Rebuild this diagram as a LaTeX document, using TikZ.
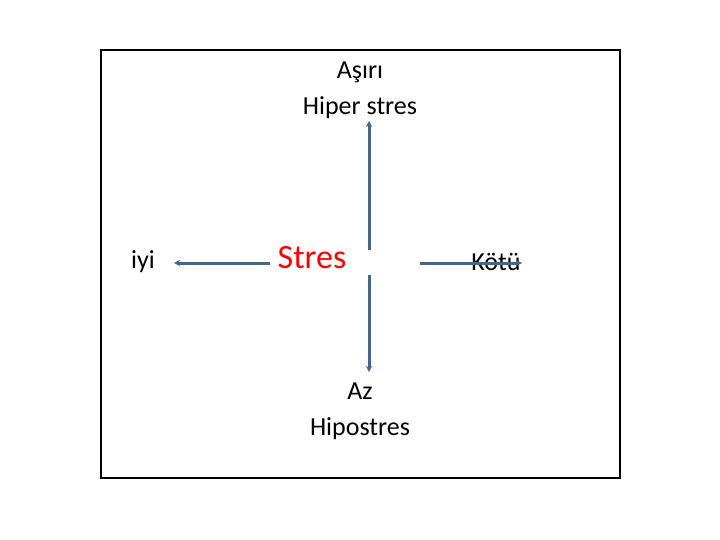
\documentclass[tikz,border=0pt]{standalone}
\usepackage{fontspec}
\setmainfont{Carlito}
\usetikzlibrary{arrows.meta}
\definecolor{steel}{RGB}{68,102,140}
\tikzset{label/.style={font=\fontsize{26}{36}\selectfont},
  arr/.style={draw=steel,line width=3pt,-{Stealth[length=6pt,width=6pt]}}}
\begin{document}
\begin{tikzpicture}[x=1pt,y=-1pt]
\useasboundingbox (0,0) rectangle (720,540);
\draw[line width=2.5pt] (101,50) rectangle (620,478);
\node[label,align=center] (top) at (360,90) {Aşırı\\Hiper stres};
\node[label,align=center] (bot) at (360,411) {Az\\Hipostres};
\node[label] (iyi) at (143,262) {iyi};
\node[label] (kotu) at (496,262) {Kötü};
\node[font=\fontsize{34}{40}\selectfont,text=red] (stres) at (312,258) {Stres};
\coordinate (c1) at (369,250);
\coordinate (c2) at (369,275);
\coordinate (c3) at (270,263);
\coordinate (c4) at (420,263);
\coordinate (t1) at (369,121);
\coordinate (t2) at (369,372);
\coordinate (t3) at (174,263);
\coordinate (t4) at (522,263);
\draw[arr] (c1) -- (t1);
\draw[arr] (c2) -- (t2);
\draw[arr] (c3) -- (t3);
\draw[arr] (c4) -- (t4);
\end{tikzpicture}
\end{document}
